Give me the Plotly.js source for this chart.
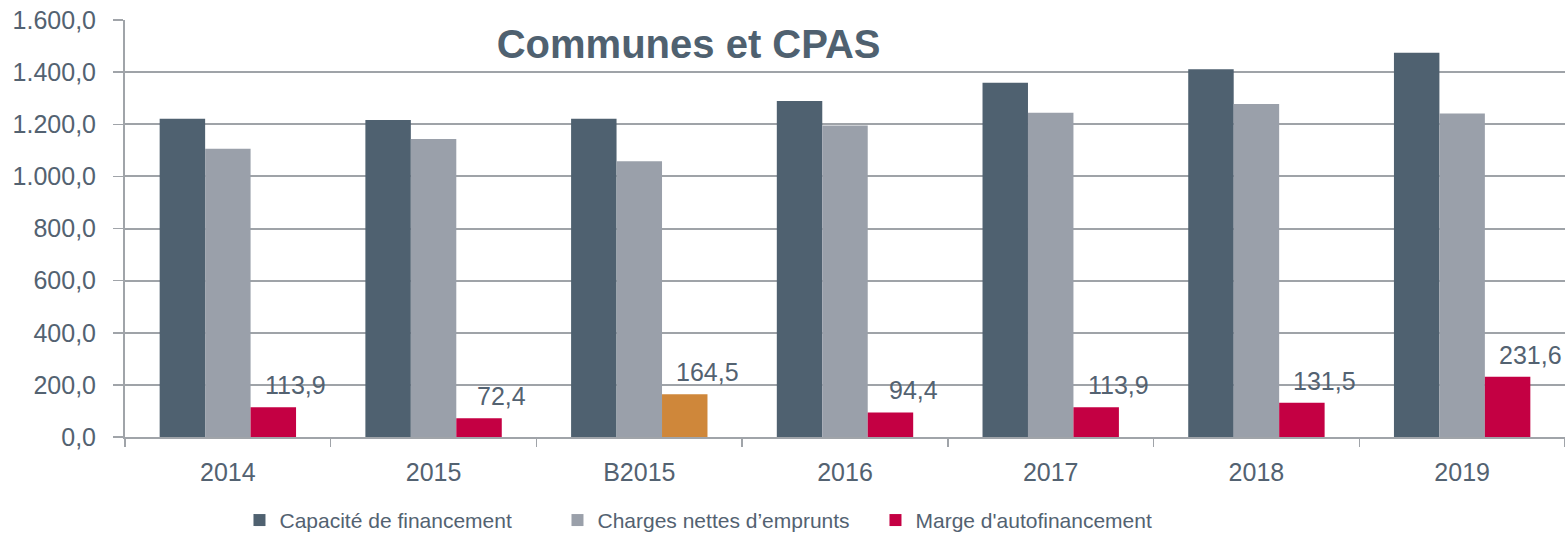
<!DOCTYPE html>
<html>
<head>
<meta charset="utf-8">
<script src="https://cdn.plot.ly/plotly-3.0.1.min.js"></script>
<style>html,body{margin:0;padding:0;background:#fff;}#chart{width:1565px;height:541px;}</style>
</head>
<body>
<div id="chart"></div>
<script>
const categories = ["2014", "2015", "B2015", "2016", "2017", "2018", "2019"];
const capacite = [1221, 1216, 1221, 1289, 1359, 1411, 1474];
const charges = [1106, 1143, 1058, 1195, 1244, 1278, 1241];
const marge = [113.9, 72.4, 164.5, 94.4, 113.9, 131.5, 231.6];
const seriesNames = ["Capacité de financement", "Charges nettes d’emprunts", "Marge d'autofinancement"];
const chartTitle = "Communes et CPAS";

const textColor = "#536271";
const fontFam = "Liberation Sans, Arial, sans-serif";
const fmt = v => v.toFixed(1).replace('.', ',');

const traces = [
  {type: "bar", name: seriesNames[0], x: categories, y: capacite, marker: {color: "#4F6170"}},
  {type: "bar", name: seriesNames[1], x: categories, y: charges, marker: {color: "#9AA0AA"}},
  {type: "bar", name: seriesNames[2], x: categories, y: marge,
   marker: {color: categories.map(c => c === "B2015" ? "#CF873A" : "#C40043")}}
];

const annotations = categories.map((c, i) => ({
  x: i, y: marge[i], xref: "x", yref: "y",
  text: fmt(marge[i]), showarrow: false,
  xanchor: "center", yanchor: "bottom",
  xshift: 68, yshift: 6,
  font: {family: fontFam, size: 25, color: textColor}
}));

const layout = {
  width: 1565, height: 541,
  margin: {l: 125, r: 0, t: 20, b: 100},
  paper_bgcolor: "#fff", plot_bgcolor: "#fff",
  separators: ",.",
  barmode: "group", bargap: 0.337, bargroupgap: 0,
  font: {family: fontFam, size: 21, color: textColor},
  title: {text: "<b>" + chartTitle + "</b>", x: 0.44, xanchor: "center", y: 0.919, yanchor: "middle",
          font: {family: fontFam, size: 40, color: "#4F6170"}},
  xaxis: {
    type: "category", range: [-0.5, categories.length - 0.5], autorange: false,
    showline: true, linecolor: "#A0A4A9", linewidth: 2,
    ticks: "outside", tickson: "boundaries", ticklen: 8, tickcolor: "#A0A4A9", tickwidth: 1.5,
    ticklabelstandoff: 12, showgrid: false, tickangle: 0,
    tickfont: {family: fontFam, size: 25, color: textColor}
  },
  yaxis: {
    range: [0, 1600], autorange: false, dtick: 200, tickformat: ",.1f",
    showline: true, linecolor: "#A0A4A9", linewidth: 2,
    ticks: "outside", ticklen: 10, tickcolor: "#A0A4A9", tickwidth: 1.5,
    ticklabelstandoff: 12,
    showgrid: true, gridcolor: "#9FA3A8", gridwidth: 2, zeroline: false,
    tickfont: {family: fontFam, size: 25, color: textColor}
  },
  showlegend: true,
  legend: {orientation: "h", x: 0.0795, xanchor: "left", y: -0.2, yanchor: "middle",
           entrywidth: 273, entrywidthmode: "pixels", itemwidth: 30,
           font: {family: fontFam, size: 21, color: textColor}, traceorder: "normal"},
  annotations: annotations
};

Plotly.newPlot("chart", traces, layout, {displayModeBar: false, staticPlot: true});
</script>
</body>
</html>
